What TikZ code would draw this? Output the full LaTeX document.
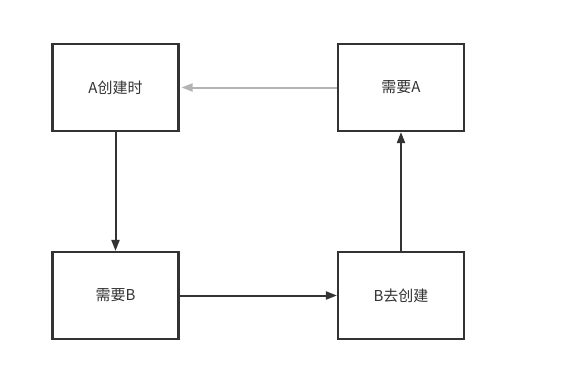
\documentclass[tikz,border=0pt]{standalone}
\usepackage{fontspec}
\setmainfont{Noto Sans CJK SC}
\usetikzlibrary{arrows.meta}
\definecolor{dk}{HTML}{333333}
\definecolor{lg}{HTML}{B3B3B3}
\tikzset{
  box/.style={draw=dk, line width=2.2pt, minimum width=126pt, minimum height=87pt, inner sep=0pt, fill=white, text=dk, font=\fontsize{15pt}{17pt}\selectfont},
  link/.style={draw=dk, line width=2pt, -{Triangle[length=11pt,width=8pt]}},
  glink/.style={draw=lg, line width=2pt, -{Triangle[length=11pt,width=8pt]}, color=lg}
}
\begin{document}
\begin{tikzpicture}[x=1pt,y=-1pt]
\useasboundingbox (0,0) rectangle (572,375);
\fill[white] (0,0) rectangle (572,375);
\node[box] (a) at (115.5,87.5) {A创建时};
\node[box] (na) at (401,87.5) {需要A};
\node[box] (nb) at (115.5,295.5) {需要B};
\node[box] (bc) at (401,295.5) {B去创建};
\draw[glink] (na.west) -- ([xshift=2pt]a.east);
\draw[link] (a.south) -- (nb.north);
\draw[link] (nb.east) -- (bc.west);
\draw[link] (bc.north) -- (na.south);
\end{tikzpicture}
\end{document}
